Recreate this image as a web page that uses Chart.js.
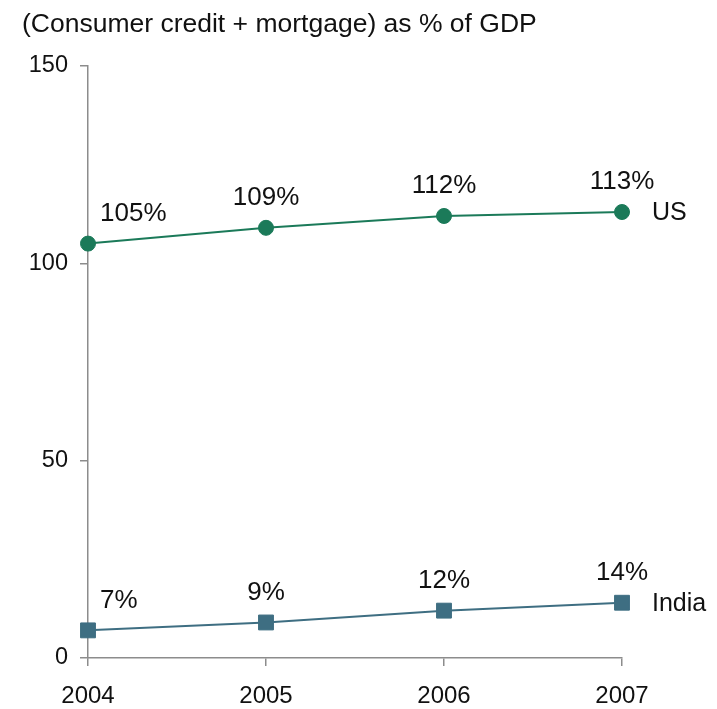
<!DOCTYPE html>
<html>
<head>
<meta charset="utf-8">
<script src="https://cdn.jsdelivr.net/npm/chart.js@4"></script>
<style>
  html, body { margin: 0; padding: 0; background: #ffffff; }
  #wrap { width: 717px; height: 709px; position: relative; }
</style>
</head>
<body>
<div id="wrap"><canvas id="chart"></canvas></div>
<script>
// Household debt (consumer credit + mortgage) as a share of GDP
const years = ['2004', '2005', '2006', '2007'];
const usDebt = [105, 109, 112, 113];
const indiaDebt = [7, 9, 12, 14];
const yTicks = [0, 50, 100, 150];
const seriesNames = ['US', 'India'];
const titleText = '(Consumer credit + mortgage) as % of GDP';

const FONT = '"Liberation Sans", Arial, Helvetica, sans-serif';
const AXIS_GREY = '#8c8c8c';
const US_GREEN = '#1b7a59';
const INDIA_BLUE = '#3e6e82';

// Value labels above each point, plus series names after the last point
const pointLabels = {
  id: 'pointLabels',
  afterDatasetsDraw(chart) {
    const ctx = chart.ctx;
    ctx.save();
    ctx.fillStyle = '#111111';
    ctx.textBaseline = 'middle';
    chart.data.datasets.forEach((ds, di) => {
      const meta = chart.getDatasetMeta(di);
      ctx.font = '26px ' + FONT;
      meta.data.forEach((pt, i) => {
        const txt = ds.data[i] + '%';
        if (i === 0) {
          ctx.textAlign = 'left';
          ctx.fillText(txt, pt.x + 12, pt.y - 30);
        } else {
          ctx.textAlign = 'center';
          ctx.fillText(txt, pt.x, pt.y - 30);
        }
      });
      const last = meta.data[meta.data.length - 1];
      ctx.font = '25px ' + FONT;
      ctx.textAlign = 'left';
      ctx.fillText(ds.label, last.x + 30, last.y + 1);
    });
    ctx.restore();
  }
};

new Chart(document.getElementById('chart'), {
  type: 'line',
  data: {
    labels: years,
    datasets: [
      {
        label: seriesNames[0],
        data: usDebt,
        borderColor: US_GREEN,
        backgroundColor: US_GREEN,
        borderWidth: 2,
        pointStyle: 'circle',
        pointRadius: 7.5,
        pointBorderWidth: 1,
        pointBorderColor: US_GREEN,
        pointBackgroundColor: US_GREEN,
        tension: 0
      },
      {
        label: seriesNames[1],
        data: indiaDebt,
        borderColor: INDIA_BLUE,
        backgroundColor: INDIA_BLUE,
        borderWidth: 2,
        pointStyle: 'rect',
        pointRadius: 10.5,
        pointBorderWidth: 1,
        pointBorderColor: INDIA_BLUE,
        pointBackgroundColor: INDIA_BLUE,
        tension: 0
      }
    ]
  },
  options: {
    responsive: true,
    maintainAspectRatio: false,
    animation: false,
    clip: false,
    layout: { padding: { left: 22, right: 95, top: 0, bottom: 0 } },
    plugins: {
      legend: { display: false },
      tooltip: { enabled: false },
      title: {
        display: true,
        text: titleText,
        align: 'start',
        color: '#111111',
        font: { family: FONT, size: 26.5, weight: 'normal', lineHeight: 1.2 },
        padding: { top: 8.5, bottom: 25.7 }
      }
    },
    scales: {
      x: {
        type: 'category',
        offset: false,
        afterFit(scale) { scale.height = 51; },
        grid: {
          display: true,
          drawOnChartArea: false,
          drawTicks: true,
          tickLength: 8,
          color: AXIS_GREY,
          lineWidth: 1.5
        },
        border: { display: true, color: AXIS_GREY, width: 1.5 },
        ticks: {
          color: '#111111',
          font: { family: FONT, size: 24 },
          padding: 16,
          maxRotation: 0
        }
      },
      y: {
        min: 0,
        max: 150,
        afterFit(scale) { scale.width = 66; },
        afterBuildTicks(scale) { scale.ticks = yTicks.map(v => ({ value: v })); },
        grid: {
          display: true,
          drawOnChartArea: false,
          drawTicks: true,
          tickLength: 8,
          color: AXIS_GREY,
          lineWidth: 1.5
        },
        border: { display: true, color: AXIS_GREY, width: 1.5 },
        ticks: {
          color: '#111111',
          font: { family: FONT, size: 23.5 },
          padding: 12
        }
      }
    }
  },
  plugins: [pointLabels]
});
</script>
</body>
</html>
